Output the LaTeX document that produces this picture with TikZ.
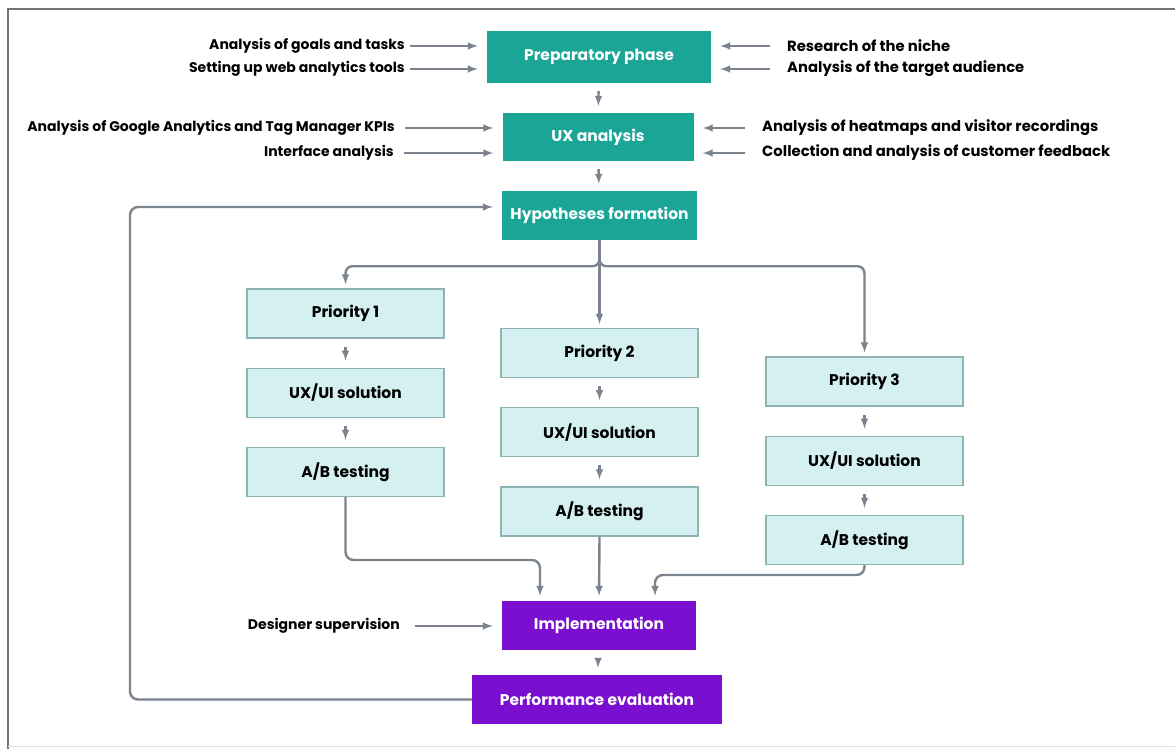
\documentclass[tikz,border=0pt]{standalone}
\usepackage{fontspec}
\setmainfont{Poppins}
\usetikzlibrary{positioning}

\definecolor{tealbox}{HTML}{1BA596}
\definecolor{lightbox}{HTML}{D4F0F0}
\definecolor{lightedge}{HTML}{8DB3B3}
\definecolor{purplebox}{HTML}{7A0FD0}
\definecolor{arrowgray}{HTML}{7B838C}

\tikzset{
  phase/.style={rectangle,fill=tealbox,text=white,inner sep=0pt,
    font=\fontsize{15.5}{18}\selectfont\bfseries},
  stepbox/.style={rectangle,fill=lightbox,draw=lightedge,line width=1.2pt,
    minimum width=197pt,minimum height=49pt,inner sep=0pt,
    font=\fontsize{15.5}{18}\selectfont\bfseries},
  final/.style={rectangle,fill=purplebox,text=white,inner sep=0pt,
    minimum height=49pt,font=\fontsize{15.5}{18}\selectfont\bfseries},
  lab/.style={inner sep=0pt,font=\fontsize{14}{16}\selectfont\bfseries},
  rlab/.style={lab,font=\fontsize{14.8}{17}\selectfont\bfseries},
  arr/.style={->,draw=arrowgray,line width=2.4pt,>=latex},
  short/.style={arr,shorten <=8pt,shorten >=7pt}
}

\begin{document}
\begin{tikzpicture}[x=1pt,y=-1pt]
    \useasboundingbox (0,0) rectangle (1175,749);

    % frame
    \draw[gray!90!black,line width=1.5pt] (8,749) -- (8,9) -- (1175,9);
    \draw[gray!25,line width=1pt] (8,746) -- (1175,746);

    % main column
    \node[phase,minimum width=224pt,minimum height=52pt] (prep) at (599,57) {Preparatory phase};
    \node[phase,minimum width=191pt,minimum height=48pt] (ux) at (598,137) {UX analysis};
    \node[phase,minimum width=195pt,minimum height=49pt] (hypo) at (599.5,215.5) {Hypotheses formation};

    % inputs of the preparatory phase
    \node[lab,anchor=east] (goals) at (405,46) {Analysis of goals and tasks};
    \node[lab,anchor=east] (tools) at (405,69) {Setting up web analytics tools};
    \node[rlab,anchor=west] (niche) at (787,46) {Research of the niche};
    \node[rlab,anchor=west] (audience) at (787,69) {Analysis of the target audience};

    % inputs of the UX analysis
    \node[lab,anchor=east] (kpis) at (395,128) {Analysis of Google Analytics and Tag Manager KPIs};
    \node[lab,anchor=east] (iface) at (394,153) {Interface analysis};
    \node[rlab,anchor=west] (heatmaps) at (762,128) {Analysis of heatmaps and visitor recordings};
    \node[rlab,anchor=west] (feedback) at (762,153) {Collection and analysis of customer feedback};

    \foreach \src in {goals,tools}
    \draw[arr,shorten <=5pt,shorten >=9pt] (\src.east) -- (prep.west |- \src);
    \foreach \src in {niche,audience}
    \draw[arr,shorten <=17pt,shorten >=9pt] (\src.west) -- (prep.east |- \src);
    \foreach \src in {kpis,iface}
    \draw[arr,shorten <=10pt,shorten >=9pt] (\src.east) -- (ux.west |- \src);
    \foreach \src in {heatmaps,feedback}
    \draw[arr,shorten <=17pt,shorten >=9pt] (\src.west) -- (ux.east |- \src);

    \draw[short] (prep) -- (ux);
    \draw[short] (ux) -- (hypo);

    % priority columns
    \foreach \i/\x/\y in {1/345.5/313.5,2/599.5/353,3/864.5/381.5} {
      \node[stepbox] (prio-\i) at (\x,\y) {Priority \i};
      \node[stepbox,below=29pt of prio-\i] (sol-\i) {UX/UI solution};
      \node[stepbox,below=29pt of sol-\i] (ab-\i) {A/B testing};
      \draw[short] (prio-\i) -- (sol-\i);
      \draw[short] (sol-\i) -- (ab-\i);
    }

    % split after the hypotheses
    \draw[arr,rounded corners=7pt,shorten >=4pt] (hypo.south) -- ++(0,26) -| (prio-1.north);
    \draw[arr,rounded corners=7pt,shorten >=4pt] (hypo.south) -- ++(0,26) -| (prio-3.north);
    \draw[arr,shorten >=4pt] (hypo.south) -- (prio-2.north);

    % implementation and evaluation
    \node[final,minimum width=194pt] (impl) at (599,625.5) {Implementation};
    \node[final,minimum width=250pt] (perf) at (597,699.5) {Performance evaluation};
    \node[lab,anchor=east] (designer) at (400,626) {Designer supervision};

    \coordinate (m1) at (540,560);
    \coordinate (m3) at (655,575);
    \draw[arr,rounded corners=8pt,shorten >=5pt] (ab-1.south) |- (m1) -- (m1 |- impl.north);
    \draw[arr,shorten >=5pt] (ab-2.south) -- (impl.north);
    \draw[arr,rounded corners=8pt,shorten >=5pt] (ab-3.south) |- (m3) -- (m3 |- impl.north);
    \draw[arr,shorten <=15pt,shorten >=9pt] (designer.east) -- (impl.west |- designer);
    \draw[short] (impl) -- (perf);

    % loop back to the hypotheses
    \coordinate (back) at (130,207);
    \draw[arr,rounded corners=8pt,shorten >=9pt] (perf.west) -| (back) -- (hypo.west |- back);
  \end{tikzpicture}
\end{document}
